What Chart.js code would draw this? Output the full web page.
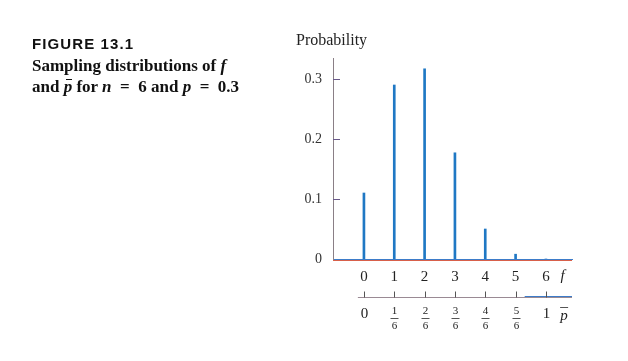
<!DOCTYPE html>
<html>
<head>
<meta charset="utf-8">
<script src="https://cdn.jsdelivr.net/npm/chart.js@4"></script>
<style>
  body { margin: 0; background: #fff; }
  #wrap { position: relative; width: 628px; height: 361px; }
  #chart { position: absolute; left: 0; top: 0; }
  .fig { position: absolute; left: 32px; top: 35px; font: bold 15px "Liberation Sans", sans-serif; letter-spacing: 1.1px; color: #111; }
  .cap { position: absolute; left: 32px; top: 55px; font: bold 17px/21px "Liberation Serif", serif; color: #111; }
  .cap i { font-style: italic; }
  .bar { position: relative; display: inline-block; }
  .bar::before { content: ''; position: absolute; left: 2px; right: 0; top: 3px; border-top: 1.5px solid #111; }
  .ylab { position: absolute; left: 296px; top: 31px; font: 16px "Liberation Serif", serif; color: #222; }
</style>
</head>
<body>
<div id="wrap">
  <canvas id="chart" width="628" height="361"></canvas>
  <div class="fig">FIGURE 13.1</div>
  <div class="cap">Sampling distributions of <i>f</i><br>and <i class="bar">p</i> for <i>n</i>&ensp;=&ensp;6 and <i>p</i>&ensp;=&ensp;0.3</div>
  <div class="ylab">Probability</div>
</div>
<script>
// ---------- DATOS ----------
const fValues = [0, 1, 2, 3, 4, 5, 6];
const probs = [0.11, 0.29, 0.317, 0.177, 0.05, 0.008, 0];
const yTicks = [0, 0.1, 0.2, 0.3];
const yTickLabels = ['0', '0.1', '0.2', '0.3'];
const pNum = ['0', '1', '2', '3', '4', '5', '1'];
const pDen = ['', '6', '6', '6', '6', '6', ''];

const serif = '"Liberation Serif", serif';

// ---------- EJE p-barra y marcas ----------
const extraAxes = {
  id: 'extraAxes',
  afterDraw(chart) {
    const ctx = chart.ctx;
    const xs = chart.scales.x;
    const ys = chart.scales.y;
    const area = chart.chartArea;
    ctx.save();

    // marcas del eje y hacia dentro
    ctx.strokeStyle = '#6a5a8a';
    ctx.lineWidth = 1;
    yTicks.slice(1).forEach(v => {
      const y = Math.round(ys.getPixelForValue(v)) + 0.5;
      ctx.beginPath();
      ctx.moveTo(area.left, y);
      ctx.lineTo(area.left + 7, y);
      ctx.stroke();
    });

    // linea base roja bajo la azul
    ctx.strokeStyle = '#d8604a';
    ctx.beginPath();
    ctx.moveTo(area.left, area.bottom + 1.5);
    ctx.lineTo(area.right, area.bottom + 1.5);
    ctx.stroke();

    // etiqueta f
    ctx.fillStyle = '#222';
    ctx.font = 'italic 15px ' + serif;
    ctx.textAlign = 'center';
    ctx.textBaseline = 'middle';
    ctx.fillText('f', xs.getPixelForValue(6.55), 276);

    // segundo eje (p barra)
    const yAx = 297.5;
    ctx.strokeStyle = '#9a8a94';
    ctx.beginPath();
    ctx.moveTo(xs.getPixelForValue(-0.2), yAx);
    ctx.lineTo(area.right, yAx);
    ctx.stroke();
    ctx.strokeStyle = '#3d7cc9';
    ctx.beginPath();
    ctx.moveTo(xs.getPixelForValue(5.3), yAx - 1);
    ctx.lineTo(area.right, yAx - 1);
    ctx.stroke();

    ctx.strokeStyle = '#555';
    fValues.forEach((v, i) => {
      const x = Math.round(xs.getPixelForValue(v)) + 0.5;
      ctx.beginPath();
      ctx.moveTo(x, yAx);
      ctx.lineTo(x, yAx - 6);
      ctx.stroke();

      ctx.fillStyle = '#222';
      if (pDen[i]) {
        ctx.font = '11px ' + serif;
        ctx.fillText(pNum[i], x, 311);
        ctx.fillText(pDen[i], x, 326);
        ctx.beginPath();
        ctx.moveTo(x - 4, 318.5);
        ctx.lineTo(x + 4, 318.5);
        ctx.stroke();
      } else {
        ctx.font = '15px ' + serif;
        ctx.fillText(pNum[i], x, 314);
      }
    });

    // etiqueta p barra
    const px = xs.getPixelForValue(6.6);
    ctx.font = 'italic 15px ' + serif;
    ctx.fillText('p', px, 316);
    ctx.beginPath();
    ctx.moveTo(px - 4, 307.5);
    ctx.lineTo(px + 4, 307.5);
    ctx.stroke();

    ctx.restore();
  }
};

const ctx = document.getElementById('chart').getContext('2d');
new Chart(ctx, {
  type: 'bar',
  data: {
    datasets: [{
      data: fValues.map((f, i) => ({ x: f, y: probs[i] })),
      backgroundColor: '#1f78c4',
      barThickness: 2
    }]
  },
  options: {
    responsive: false,
    animation: false,
    layout: { padding: { top: 58, right: 56, left: 0, bottom: 0 } },
    plugins: { legend: { display: false }, tooltip: { enabled: false } },
    scales: {
      x: {
        type: 'linear',
        offset: false,
        min: -1.02,
        max: 6.86,
        afterFit: s => { s.height = 102; },
        afterBuildTicks: s => { s.ticks = fValues.map(v => ({ value: v })); },
        grid: { display: false, drawTicks: false, offset: false },
        border: { color: '#3d7cc9', width: 1 },
        ticks: { padding: 9, color: '#222', font: { family: serif, size: 15 } }
      },
      y: {
        min: 0,
        max: 0.335,
        afterFit: s => { s.width = 333; },
        afterBuildTicks: s => { s.ticks = yTicks.map(v => ({ value: v })); },
        grid: { display: false, drawTicks: false },
        border: { color: '#8a7f86', width: 1 },
        ticks: {
          padding: 11,
          color: '#333',
          font: { family: serif, size: 14 },
          callback: (v, i) => yTickLabels[i]
        }
      }
    }
  },
  plugins: [extraAxes]
});
</script>
</body>
</html>
